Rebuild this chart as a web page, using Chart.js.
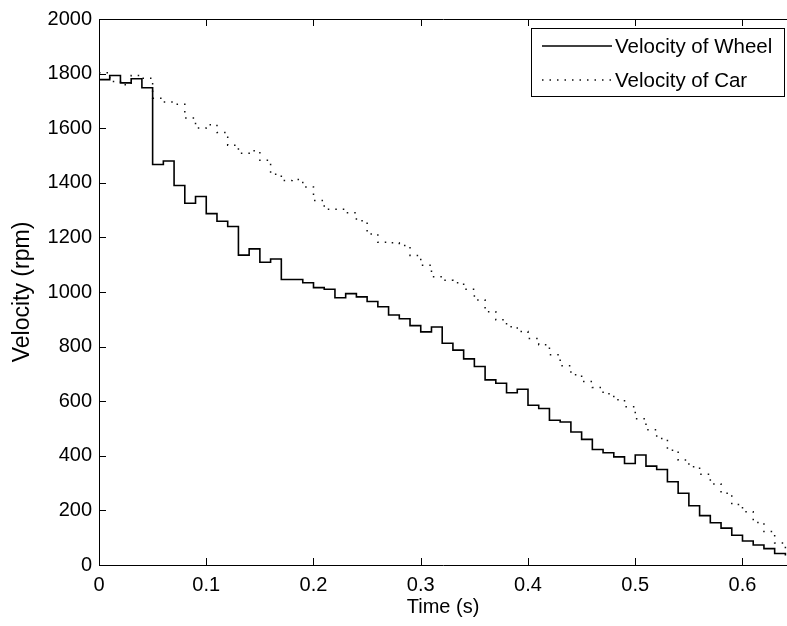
<!DOCTYPE html>
<html><head><meta charset="utf-8">
<script src="https://cdn.jsdelivr.net/npm/chart.js@4.4.0/dist/chart.umd.min.js"></script>
<style>html,body{margin:0;padding:0;background:#fff;}#wrap{width:787px;height:626px;}</style>
</head><body><div id="wrap"><canvas id="c" width="787" height="626"></canvas></div>
<script>
const timeS = [0,0.01,0.02,0.03,0.04,0.05,0.06,0.07,0.08,0.09,0.10,0.11,0.12,0.13,0.14,0.15,0.16,0.17,0.18,0.19,
  0.20,0.21,0.22,0.23,0.24,0.25,0.26,0.27,0.28,0.29,0.30,0.31,0.32,0.33,0.34,0.35,0.36,0.37,0.38,0.39,
  0.40,0.41,0.42,0.43,0.44,0.45,0.46,0.47,0.48,0.49,0.50,0.51,0.52,0.53,0.54,0.55,0.56,0.57,0.58,0.59,
  0.60,0.61,0.62,0.63,0.64];
const wheelRpm = [1778,1793,1766,1781,1748,1467,1480,1390,1325,1350,1287,1259,1240,1135,1158,1109,1121,1046,1046,1034,
  1016,1010,979,994,982,965,946,916,902,877,854,872,812,787,755,727,678,666,631,644,
  585,573,530,524,487,460,423,411,396,372,403,362,350,305,263,217,181,155,135,109,
  88,73,60,42,35];
const carRpm = [1803,1771,1759,1793,1783,1710,1696,1688,1637,1601,1613,1584,1538,1508,1517,1483,1431,1408,1412,1385,
  1335,1303,1303,1290,1261,1212,1182,1180,1170,1134,1098,1056,1043,1034,1010,971,928,898,873,855,
  830,807,770,730,697,672,650,627,605,580,536,495,463,420,385,360,332,297,263,222,
  195,156,123,81,45];
const xTicks = [0,0.1,0.2,0.3,0.4,0.5,0.6];
const yTicks = [0,200,400,600,800,1000,1200,1400,1600,1800,2000];
const seriesLabels = ['Velocity of Wheel','Velocity of Car'];
const xTitle = 'Time (s)';
const yTitle = 'Velocity (rpm)';

const FONT = 'Liberation Sans, Arial, sans-serif';
const pts = arr => arr.map((v,i)=>({x:timeS[i], y:v}));

const frame = {
  id:'frame',
  afterDraw(chart){
    const {ctx, chartArea:a, scales:{x,y}} = chart;
    ctx.save();
    ctx.strokeStyle='#000'; ctx.lineWidth=1;
    ctx.beginPath();
    ctx.moveTo(a.left, a.top+0.5); ctx.lineTo(a.right+1, a.top+0.5);
    const T=7;
    xTicks.forEach(v=>{
      const px=Math.round(x.getPixelForValue(v))+0.5;
      ctx.moveTo(px,a.bottom); ctx.lineTo(px,a.bottom-T);
      ctx.moveTo(px,a.top); ctx.lineTo(px,a.top+T);
    });
    yTicks.forEach(v=>{
      const py=Math.round(y.getPixelForValue(v))+0.5;
      ctx.moveTo(a.left,py); ctx.lineTo(a.left+T,py);
    });
    ctx.stroke();
    // legend
    const L=531, Tp=28, W=253, H=68;
    ctx.fillStyle='#fff'; ctx.fillRect(L,Tp,W,H);
    ctx.strokeRect(L+0.5,Tp+0.5,W,H);
    const ds = chart.data.datasets;
    const rows=[46,80];
    ds.forEach((d,i)=>{
      ctx.save();
      ctx.strokeStyle=d.borderColor; ctx.lineWidth=d.borderWidth;
      ctx.setLineDash(d.borderDash||[]);
      ctx.beginPath(); ctx.moveTo(542,rows[i]); ctx.lineTo(612,rows[i]); ctx.stroke();
      ctx.restore();
      ctx.fillStyle='#000'; ctx.font='20.5px '+FONT; ctx.textBaseline='middle'; ctx.textAlign='left';
      ctx.fillText(d.label,615,rows[i]+1);
    });
    ctx.restore();
  }
};

new Chart(document.getElementById('c'),{
  type:'line',
  data:{datasets:[
    {label:seriesLabels[0], data:pts(wheelRpm), stepped:true, borderColor:'#000', borderWidth:1.6, pointRadius:0, fill:false},
    {label:seriesLabels[1], data:pts(carRpm), stepped:true, borderColor:'#111', borderWidth:1.5, borderDash:[1.5,6], pointRadius:0, fill:false}
  ]},
  options:{
    responsive:false, animation:false, devicePixelRatio:1,
    layout:{padding:{top:17,right:0,left:0,bottom:0}},
    plugins:{legend:{display:false}, tooltip:{enabled:false}},
    scales:{
      x:{type:'linear', min:0, max:0.6415,
        afterBuildTicks:s=>{s.ticks=xTicks.map(v=>({value:v}));},
        afterFit:s=>{s.height=61;},
        grid:{display:false, drawTicks:false},
        border:{display:true,color:'#000',width:1},
        ticks:{padding:8, color:'#000', font:{family:FONT,size:20}, maxRotation:0,
          callback:v=> v===0?'0':Number(v).toFixed(1)},
        title:{display:true, text:xTitle, color:'#000', font:{family:FONT,size:20}, padding:{top:0,bottom:7}}
      },
      y:{type:'linear', min:0, max:2000,
        afterBuildTicks:s=>{s.ticks=yTicks.map(v=>({value:v}));},
        afterFit:s=>{s.width=99;},
        grid:{display:false, drawTicks:false},
        border:{display:true,color:'#000',width:1},
        ticks:{padding:7, color:'#000', font:{family:FONT,size:20}, callback:v=>String(v)},
        title:{display:true, text:yTitle, color:'#000', font:{family:FONT,size:23}, padding:{top:9,bottom:9}}
      }
    }
  },
  plugins:[frame]
});
</script></body></html>
